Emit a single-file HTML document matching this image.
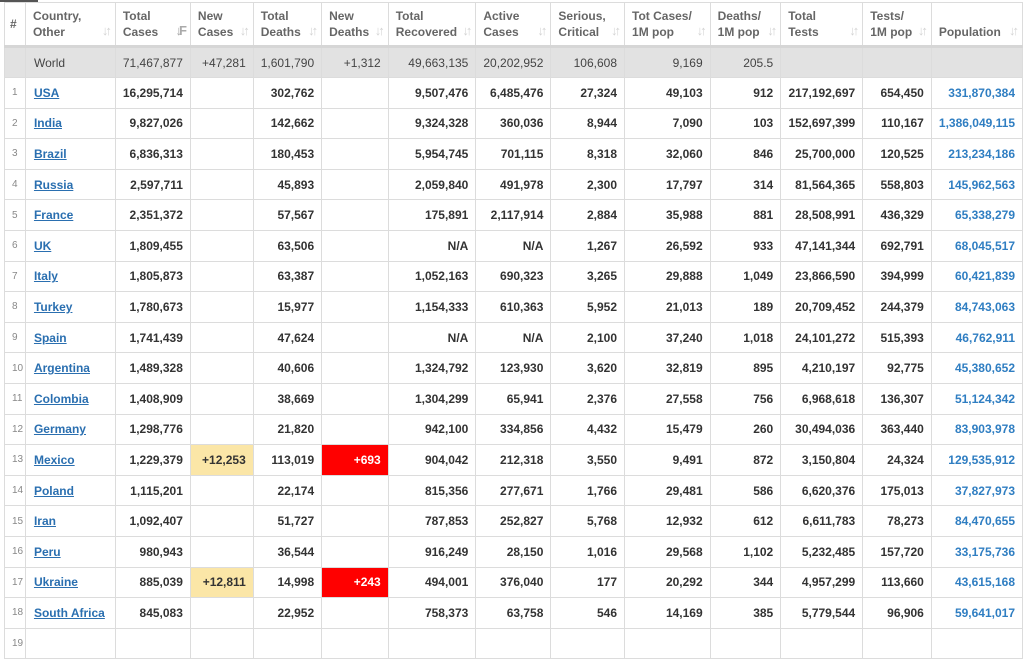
<!DOCTYPE html>
<html><head><meta charset="utf-8"><style>
body{margin:0;background:#fff;width:1023px;height:632px;overflow:hidden;font-family:"Liberation Sans",Arial,sans-serif;}
table{position:absolute;left:4px;top:2px;border-collapse:collapse;table-layout:fixed;}
td,th{border:1px solid #dcdcdc;padding:0 7px;font-size:12px;white-space:nowrap;overflow:hidden;}
th{height:42px;text-align:left;font-weight:bold;color:#666;font-size:12px;line-height:16px;position:relative;vertical-align:middle;border-bottom:3px solid #d6d6d6;}
th .s{position:absolute;right:6px;bottom:6px;color:#d4d4d4;font-size:13px;letter-spacing:-3px;}
th .s.a{color:#aaa;}
td{height:29.6px;text-align:right;font-weight:bold;color:#333;}
td:first-child{text-align:left;font-weight:normal;color:#888;font-size:10px;padding:0 0 0 7px;}
td.c{text-align:left;padding-left:8px;}
td.c a{color:#2a6fb0;text-decoration:underline;}
tr.w td{background:#e2e2e2;font-weight:normal;color:#444;height:29px;}
tr.w td.c{color:#444;}
td.p{color:#2f7ec2;font-weight:bold;}
td.y{background:#fbe6a7;}
td.r{background:#ff0000;color:#fff;}
</style></head><body>
<div style="position:absolute;left:0;top:0;width:38px;height:2px;background:#555"></div>
<table>
<colgroup><col style="width:21px"><col style="width:90px"><col style="width:74px"><col style="width:63px"><col style="width:68px"><col style="width:67px"><col style="width:88px"><col style="width:73px"><col style="width:74px"><col style="width:86px"><col style="width:71px"><col style="width:82px"><col style="width:69px"><col style="width:90px"></colgroup>
<tr><th style="padding-left:5px">#</th><th>Country,<br>Other<span class="s">↓↑</span></th><th>Total<br>Cases<span class="s a">↓F</span></th><th>New<br>Cases<span class="s">↓↑</span></th><th>Total<br>Deaths<span class="s">↓↑</span></th><th>New<br>Deaths<span class="s">↓↑</span></th><th>Total<br>Recovered<span class="s">↓↑</span></th><th>Active<br>Cases<span class="s">↓↑</span></th><th>Serious,<br>Critical<span class="s">↓↑</span></th><th>Tot Cases/<br>1M pop<span class="s">↓↑</span></th><th>Deaths/<br>1M pop<span class="s">↓↑</span></th><th>Total<br>Tests<span class="s">↓↑</span></th><th>Tests/<br>1M pop<span class="s">↓↑</span></th><th><br>Population<span class="s">↓↑</span></th></tr>
<tr class="w"><td></td><td class="c">World</td><td>71,467,877</td><td>+47,281</td><td>1,601,790</td><td>+1,312</td><td>49,663,135</td><td>20,202,952</td><td>106,608</td><td>9,169</td><td>205.5</td><td></td><td></td><td></td></tr>
<tr><td>1</td><td class="c"><a>USA</a></td><td>16,295,714</td><td></td><td>302,762</td><td></td><td>9,507,476</td><td>6,485,476</td><td>27,324</td><td>49,103</td><td>912</td><td>217,192,697</td><td>654,450</td><td class="p">331,870,384</td></tr>
<tr><td>2</td><td class="c"><a>India</a></td><td>9,827,026</td><td></td><td>142,662</td><td></td><td>9,324,328</td><td>360,036</td><td>8,944</td><td>7,090</td><td>103</td><td>152,697,399</td><td>110,167</td><td class="p">1,386,049,115</td></tr>
<tr><td>3</td><td class="c"><a>Brazil</a></td><td>6,836,313</td><td></td><td>180,453</td><td></td><td>5,954,745</td><td>701,115</td><td>8,318</td><td>32,060</td><td>846</td><td>25,700,000</td><td>120,525</td><td class="p">213,234,186</td></tr>
<tr><td>4</td><td class="c"><a>Russia</a></td><td>2,597,711</td><td></td><td>45,893</td><td></td><td>2,059,840</td><td>491,978</td><td>2,300</td><td>17,797</td><td>314</td><td>81,564,365</td><td>558,803</td><td class="p">145,962,563</td></tr>
<tr><td>5</td><td class="c"><a>France</a></td><td>2,351,372</td><td></td><td>57,567</td><td></td><td>175,891</td><td>2,117,914</td><td>2,884</td><td>35,988</td><td>881</td><td>28,508,991</td><td>436,329</td><td class="p">65,338,279</td></tr>
<tr><td>6</td><td class="c"><a>UK</a></td><td>1,809,455</td><td></td><td>63,506</td><td></td><td>N/A</td><td>N/A</td><td>1,267</td><td>26,592</td><td>933</td><td>47,141,344</td><td>692,791</td><td class="p">68,045,517</td></tr>
<tr><td>7</td><td class="c"><a>Italy</a></td><td>1,805,873</td><td></td><td>63,387</td><td></td><td>1,052,163</td><td>690,323</td><td>3,265</td><td>29,888</td><td>1,049</td><td>23,866,590</td><td>394,999</td><td class="p">60,421,839</td></tr>
<tr><td>8</td><td class="c"><a>Turkey</a></td><td>1,780,673</td><td></td><td>15,977</td><td></td><td>1,154,333</td><td>610,363</td><td>5,952</td><td>21,013</td><td>189</td><td>20,709,452</td><td>244,379</td><td class="p">84,743,063</td></tr>
<tr><td>9</td><td class="c"><a>Spain</a></td><td>1,741,439</td><td></td><td>47,624</td><td></td><td>N/A</td><td>N/A</td><td>2,100</td><td>37,240</td><td>1,018</td><td>24,101,272</td><td>515,393</td><td class="p">46,762,911</td></tr>
<tr><td>10</td><td class="c"><a>Argentina</a></td><td>1,489,328</td><td></td><td>40,606</td><td></td><td>1,324,792</td><td>123,930</td><td>3,620</td><td>32,819</td><td>895</td><td>4,210,197</td><td>92,775</td><td class="p">45,380,652</td></tr>
<tr><td>11</td><td class="c"><a>Colombia</a></td><td>1,408,909</td><td></td><td>38,669</td><td></td><td>1,304,299</td><td>65,941</td><td>2,376</td><td>27,558</td><td>756</td><td>6,968,618</td><td>136,307</td><td class="p">51,124,342</td></tr>
<tr><td>12</td><td class="c"><a>Germany</a></td><td>1,298,776</td><td></td><td>21,820</td><td></td><td>942,100</td><td>334,856</td><td>4,432</td><td>15,479</td><td>260</td><td>30,494,036</td><td>363,440</td><td class="p">83,903,978</td></tr>
<tr><td>13</td><td class="c"><a>Mexico</a></td><td>1,229,379</td><td class="y">+12,253</td><td>113,019</td><td class="r">+693</td><td>904,042</td><td>212,318</td><td>3,550</td><td>9,491</td><td>872</td><td>3,150,804</td><td>24,324</td><td class="p">129,535,912</td></tr>
<tr><td>14</td><td class="c"><a>Poland</a></td><td>1,115,201</td><td></td><td>22,174</td><td></td><td>815,356</td><td>277,671</td><td>1,766</td><td>29,481</td><td>586</td><td>6,620,376</td><td>175,013</td><td class="p">37,827,973</td></tr>
<tr><td>15</td><td class="c"><a>Iran</a></td><td>1,092,407</td><td></td><td>51,727</td><td></td><td>787,853</td><td>252,827</td><td>5,768</td><td>12,932</td><td>612</td><td>6,611,783</td><td>78,273</td><td class="p">84,470,655</td></tr>
<tr><td>16</td><td class="c"><a>Peru</a></td><td>980,943</td><td></td><td>36,544</td><td></td><td>916,249</td><td>28,150</td><td>1,016</td><td>29,568</td><td>1,102</td><td>5,232,485</td><td>157,720</td><td class="p">33,175,736</td></tr>
<tr><td>17</td><td class="c"><a>Ukraine</a></td><td>885,039</td><td class="y">+12,811</td><td>14,998</td><td class="r">+243</td><td>494,001</td><td>376,040</td><td>177</td><td>20,292</td><td>344</td><td>4,957,299</td><td>113,660</td><td class="p">43,615,168</td></tr>
<tr><td>18</td><td class="c"><a>South Africa</a></td><td>845,083</td><td></td><td>22,952</td><td></td><td>758,373</td><td>63,758</td><td>546</td><td>14,169</td><td>385</td><td>5,779,544</td><td>96,906</td><td class="p">59,641,017</td></tr>
<tr><td>19</td><td class="c"><a></a></td><td></td><td></td><td></td><td></td><td></td><td></td><td></td><td></td><td></td><td></td><td></td><td></td></tr>
</table>
</body></html>
